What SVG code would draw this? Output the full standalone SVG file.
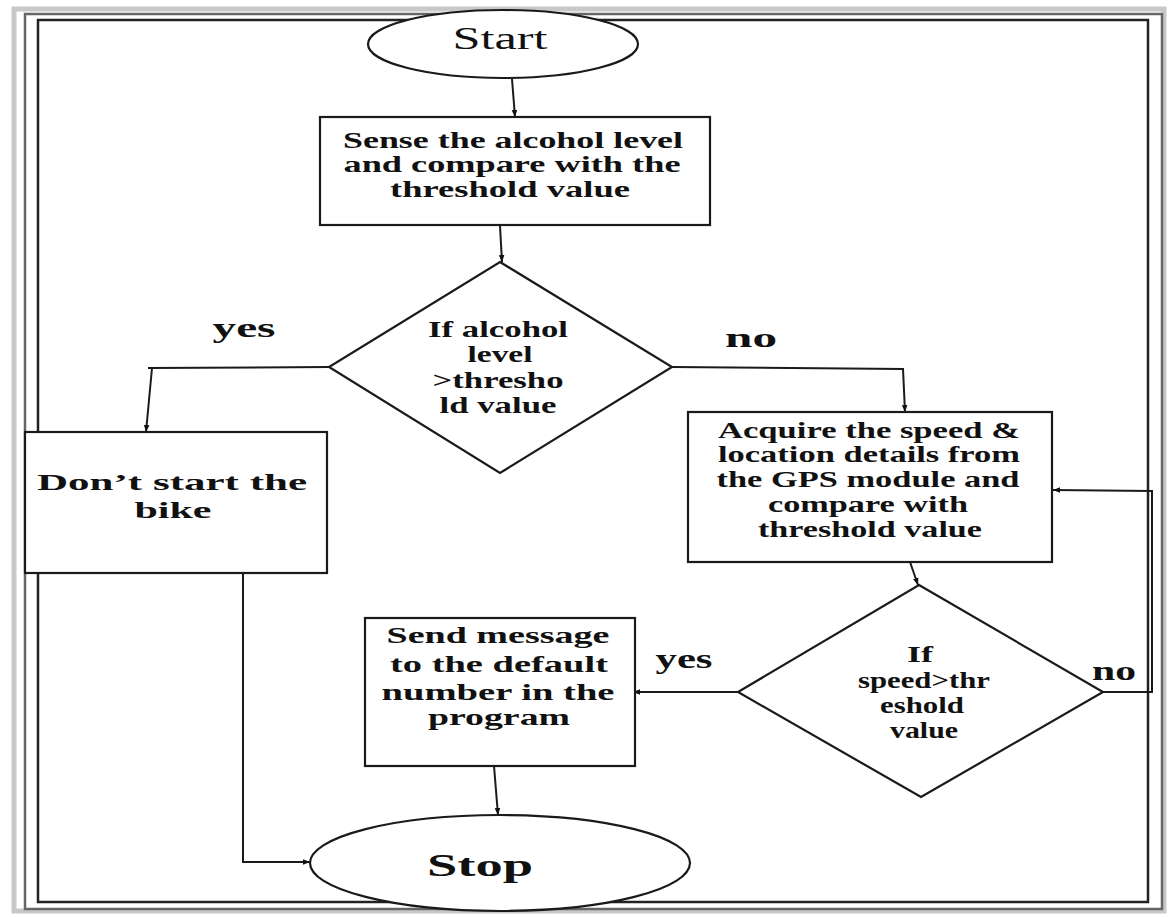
<svg xmlns="http://www.w3.org/2000/svg" width="1169" height="917" viewBox="0 0 1169 917">
<style>
.shape{fill:#fff;stroke:#1a1a1a;stroke-width:2.2}
.conn{fill:none;stroke:#1a1a1a;stroke-width:2}
.t{font-family:"Liberation Serif","Times New Roman",serif;font-weight:bold;font-size:23px;fill:#111;text-anchor:middle}
.lbl{font-family:"Liberation Serif","Times New Roman",serif;font-weight:bold;font-size:28px;fill:#111;text-anchor:middle}
.term{font-family:"Liberation Serif","Times New Roman",serif;font-size:31px;fill:#111;text-anchor:middle}
</style>
<defs>
<marker id="arr" viewBox="0 0 10 10" refX="10" refY="5" markerWidth="7" markerHeight="7" orient="auto" markerUnits="userSpaceOnUse">
<path d="M0,1 L10,5 L0,9 z" fill="#111"/>
</marker>
</defs>
<rect width="1169" height="917" fill="#fff"/>
<g id="border" fill="none">
<rect x="14" y="9" width="1150" height="902" stroke="#c8c8c8" stroke-width="5"/>
<rect x="25" y="14" width="1137" height="895" stroke="#666" stroke-width="2.5"/>
<rect x="38" y="20" width="1110" height="882" stroke="#222" stroke-width="2.5"/>
</g>
<g id="connectors">
<path class="conn" d="M512,79 L515,117" marker-end="url(#arr)"/>
<path class="conn" d="M500,226 L502,262" marker-end="url(#arr)"/>
<path class="conn" d="M330,367 L148,368"/>
<path class="conn" d="M152,368 L146,432" marker-end="url(#arr)"/>
<path class="conn" d="M672,367 L903,369 L905,412" marker-end="url(#arr)"/>
<path class="conn" d="M243,573 L243,862 L310,862" marker-end="url(#arr)"/>
<path class="conn" d="M910,562 L918,585" marker-end="url(#arr)"/>
<path class="conn" d="M738,692 L633,692" marker-end="url(#arr)"/>
<path class="conn" d="M1103,692 L1152,692 L1152,491 L1053,490" marker-end="url(#arr)"/>
<path class="conn" d="M494,766 L498,815" marker-end="url(#arr)"/>
</g>
<g id="start">
<ellipse class="shape" cx="503" cy="44" rx="135" ry="34"/>
<text class="term" x="500" y="49" textLength="95" lengthAdjust="spacingAndGlyphs">Start</text>
</g>
<g id="sense">
<rect class="shape" x="320" y="117" width="390" height="108"/>
<text class="t" x="513" y="148" textLength="340" lengthAdjust="spacingAndGlyphs">Sense the alcohol level</text>
<text class="t" x="512" y="172" textLength="337" lengthAdjust="spacingAndGlyphs">and compare with the</text>
<text class="t" x="510" y="197" textLength="240" lengthAdjust="spacingAndGlyphs">threshold value</text>
</g>
<g id="decision1">
<polygon class="shape" points="500,262 672,367 500,473 329,367"/>
<text class="t" x="498" y="337" textLength="140" lengthAdjust="spacingAndGlyphs">If alcohol</text>
<text class="t" x="500" y="362" textLength="65" lengthAdjust="spacingAndGlyphs">level</text>
<text class="t" x="498" y="388" textLength="131" lengthAdjust="spacingAndGlyphs">&gt;thresho</text>
<text class="t" x="498" y="413" textLength="117" lengthAdjust="spacingAndGlyphs">ld value</text>
</g>
<g id="label-yes1"><text class="lbl" x="244" y="337" textLength="63" lengthAdjust="spacingAndGlyphs">yes</text></g>
<g id="label-no1"><text class="lbl" x="751" y="347" textLength="52" lengthAdjust="spacingAndGlyphs">no</text></g>
<g id="dontstart">
<rect class="shape" x="25" y="432" width="302" height="141"/>
<text class="t" x="172" y="490" font-size="25" textLength="270" lengthAdjust="spacingAndGlyphs">Don’t start the</text>
<text class="t" x="173" y="518" font-size="25" textLength="77" lengthAdjust="spacingAndGlyphs">bike</text>
</g>
<g id="acquire">
<rect class="shape" x="688" y="412" width="364" height="150"/>
<text class="t" x="869" y="438" textLength="302" lengthAdjust="spacingAndGlyphs">Acquire the speed &amp;</text>
<text class="t" x="869" y="462" textLength="302" lengthAdjust="spacingAndGlyphs">location details from</text>
<text class="t" x="868" y="487" textLength="303" lengthAdjust="spacingAndGlyphs">the GPS module and</text>
<text class="t" x="868" y="512" textLength="200" lengthAdjust="spacingAndGlyphs">compare with</text>
<text class="t" x="870" y="537" textLength="224" lengthAdjust="spacingAndGlyphs">threshold value</text>
</g>
<g id="decision2">
<polygon class="shape" points="919,585 1103,692 921,797 738,692"/>
<text class="t" x="920" y="662" textLength="26" lengthAdjust="spacingAndGlyphs">If</text>
<text class="t" x="924" y="688" textLength="132" lengthAdjust="spacingAndGlyphs">speed&gt;thr</text>
<text class="t" x="922" y="713" textLength="84" lengthAdjust="spacingAndGlyphs">eshold</text>
<text class="t" x="924" y="738" textLength="68" lengthAdjust="spacingAndGlyphs">value</text>
</g>
<g id="label-yes2"><text class="lbl" x="684" y="668" textLength="57" lengthAdjust="spacingAndGlyphs">yes</text></g>
<g id="label-no2"><text class="lbl" x="1114" y="680" textLength="44" lengthAdjust="spacingAndGlyphs">no</text></g>
<g id="send">
<rect class="shape" x="365" y="618" width="270" height="148"/>
<text class="t" x="498" y="643" textLength="223" lengthAdjust="spacingAndGlyphs">Send message</text>
<text class="t" x="499" y="672" textLength="218" lengthAdjust="spacingAndGlyphs">to the default</text>
<text class="t" x="498" y="700" textLength="233" lengthAdjust="spacingAndGlyphs">number in the</text>
<text class="t" x="499" y="725" textLength="142" lengthAdjust="spacingAndGlyphs">program</text>
</g>
<g id="stop">
<ellipse class="shape" cx="500" cy="863" rx="190" ry="48"/>
<text class="term" x="480" y="876" font-weight="bold" textLength="106" lengthAdjust="spacingAndGlyphs">Stop</text>
</g>
</svg>
